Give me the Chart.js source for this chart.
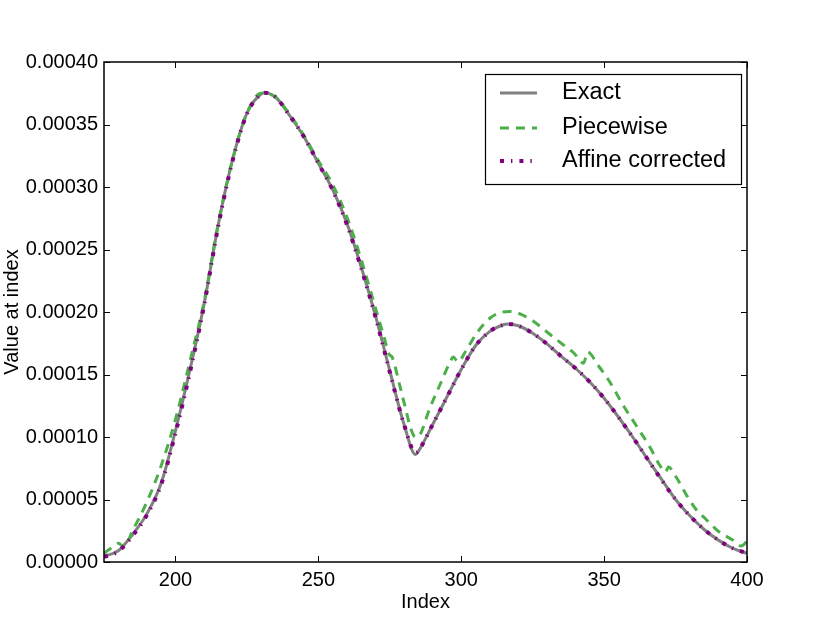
<!DOCTYPE html>
<html>
<head>
<meta charset="utf-8">
<script src="https://cdn.jsdelivr.net/npm/chart.js@4/dist/chart.umd.min.js"></script>
<style>
html,body{margin:0;padding:0;background:#fff;}
#wrap{width:830px;height:626px;}
</style>
</head>
<body>
<div id="wrap"><canvas id="c" width="830" height="626"></canvas></div>
<script>
// ---- data ----
const idx = [175,180,185,190,195,200,205,210,215,220,225,230,231,235,240,245,250,255,260,265,270,275,280,284,285,290,295,300,305,310,315,316,320,325,330,335,340,345,350,355,360,365,370,375,380,385,390,395,400];
const exactVals = [4.5e-6,9e-6,2.2e-5,3.85e-5,6.3e-5,1.05e-4,1.53e-4,2.06e-4,2.70e-4,3.22e-4,3.59e-4,3.745e-4,3.755e-4,3.72e-4,3.57e-4,3.40e-4,3.19e-4,2.98e-4,2.71e-4,2.36e-4,1.97e-4,1.53e-4,1.10e-4,8.6e-5,8.85e-5,1.10e-4,1.32e-4,1.54e-4,1.73e-4,1.845e-4,1.90e-4,1.905e-4,1.89e-4,1.83e-4,1.745e-4,1.645e-4,1.55e-4,1.44e-4,1.31e-4,1.16e-4,1.00e-4,8.3e-5,6.65e-5,5.0e-5,3.7e-5,2.6e-5,1.75e-5,1.1e-5,7e-6];
const affineVals = [4e-6,8.5e-6,2.1e-5,3.75e-5,6.2e-5,1.03e-4,1.51e-4,2.05e-4,2.69e-4,3.21e-4,3.585e-4,3.745e-4,3.755e-4,3.72e-4,3.57e-4,3.40e-4,3.19e-4,2.975e-4,2.70e-4,2.35e-4,1.96e-4,1.52e-4,1.10e-4,8.75e-5,8.9e-5,1.10e-4,1.32e-4,1.54e-4,1.73e-4,1.845e-4,1.90e-4,1.905e-4,1.89e-4,1.83e-4,1.745e-4,1.645e-4,1.55e-4,1.44e-4,1.31e-4,1.16e-4,1.00e-4,8.3e-5,6.6e-5,5.0e-5,3.7e-5,2.6e-5,1.75e-5,1.1e-5,7e-6];
const pieceIdx = [175,178,180,182,185,190,195,200,205,210,215,220,225,230,235,240,245,250,255,260,265,270,273,274.8,275.8,278.3,280.6,282.3,284,285.6,289,292.6,296.1,297.2,298.9,301.4,305.4,310,313,317,320,325,330,335,339.5,342.8,344.2,348,352,356.5,361,366,369.3,371.5,372.5,375.2,378.7,382.2,385.7,390.3,395,398,400];
const pieceVals = [7e-6,1.2e-5,1.5e-5,1.2e-5,2.5e-5,4.8e-5,7.7e-5,1.14e-4,1.60e-4,2.08e-4,2.71e-4,3.22e-4,3.59e-4,3.75e-4,3.72e-4,3.58e-4,3.41e-4,3.21e-4,3.02e-4,2.76e-4,2.42e-4,2.03e-4,1.80e-4,1.66e-4,1.64e-4,1.43e-4,1.22e-4,1.07e-4,9.98e-5,1.02e-4,1.23e-4,1.42e-4,1.60e-4,1.64e-4,1.60e-4,1.68e-4,1.83e-4,1.95e-4,1.99e-4,2.005e-4,1.99e-4,1.93e-4,1.84e-4,1.75e-4,1.67e-4,1.59e-4,1.68e-4,1.57e-4,1.44e-4,1.26e-4,1.10e-4,9.2e-5,7.8e-5,7.2e-5,7.6e-5,6.8e-5,5.4e-5,4.2e-5,3.4e-5,2.4e-5,1.76e-5,1.28e-5,1.65e-5];
const xTicks = [200,250,300,350,400];
const yTicks = [0,0.00005,0.0001,0.00015,0.0002,0.00025,0.0003,0.00035,0.0004];
const seriesNames = ['Exact','Piecewise','Affine corrected'];

const FONT = '"Liberation Sans", Arial, Helvetica, sans-serif';
const pts = (xs, ys) => xs.map((x,i)=>({x:x,y:ys[i]}));

const frameTicks = {
  id:'frameTicks',
  afterDatasetsDraw(chart){
    const ctx = chart.ctx, a = chart.chartArea;
    const xs = chart.scales.x, ys = chart.scales.y;
    ctx.save();
    ctx.strokeStyle = '#000';
    ctx.lineWidth = 1;
    const L = 6;
    ctx.beginPath();
    xTicks.forEach(v=>{
      const p = Math.round(xs.getPixelForValue(v))+0.5;
      ctx.moveTo(p,a.bottom); ctx.lineTo(p,a.bottom-L);
      ctx.moveTo(p,a.top); ctx.lineTo(p,a.top+L);
    });
    yTicks.forEach(v=>{
      const p = Math.round(ys.getPixelForValue(v))+0.5;
      ctx.moveTo(a.left,p); ctx.lineTo(a.left+L,p);
      ctx.moveTo(a.right,p); ctx.lineTo(a.right-L,p);
    });
    ctx.stroke();
    ctx.lineWidth = 1.5;
    ctx.strokeRect(a.left, a.top, a.right-a.left, a.bottom-a.top);
    ctx.restore();
  },
  afterDraw(chart){
    const ctx = chart.ctx;
    ctx.save();
    const bx=485, by=74, bw=256, bh=110;
    ctx.fillStyle='#fff';
    ctx.fillRect(bx,by,bw,bh);
    ctx.strokeStyle='#000'; ctx.lineWidth=1.2;
    ctx.strokeRect(bx+0.5,by+0.5,bw,bh);
    const rows=[93,128,161];
    chart.data.datasets.forEach((ds,i)=>{
      ctx.save();
      ctx.strokeStyle=ds.borderColor;
      ctx.lineWidth=ds.borderWidth;
      ctx.setLineDash(ds.borderDash||[]);
      ctx.lineCap='butt';
      ctx.beginPath(); ctx.moveTo(500,rows[i]); ctx.lineTo(537,rows[i]); ctx.stroke();
      ctx.restore();
      ctx.fillStyle='#000';
      ctx.font='23.5px '+FONT;
      ctx.textBaseline='middle';
      ctx.textAlign='left';
      ctx.fillText(ds.label,562,rows[i]);
    });
    ctx.restore();
  }
};

new Chart(document.getElementById('c'),{
  type:'line',
  data:{datasets:[
    {label:seriesNames[0],data:pts(idx,exactVals),borderColor:'#808080',borderWidth:3,pointRadius:0,cubicInterpolationMode:'monotone',order:3,fill:false},
    {label:seriesNames[1],data:pts(pieceIdx,pieceVals),borderColor:'#4daf4a',borderWidth:3,borderDash:[9,7],pointRadius:0,cubicInterpolationMode:'monotone',order:2,fill:false},
    {label:seriesNames[2],data:pts(idx,affineVals),borderColor:'#800080',borderWidth:4,borderDash:[4,7,1.4,7],pointRadius:0,cubicInterpolationMode:'monotone',order:1,fill:false}
  ]},
  options:{
    responsive:false,
    animation:false,
    devicePixelRatio:1,
    layout:{padding:{left:0,top:62,right:83,bottom:0}},
    plugins:{legend:{display:false},tooltip:{enabled:false}},
    scales:{
      x:{type:'linear',min:175,max:400,
        afterBuildTicks(s){ s.ticks = xTicks.map(v=>({value:v})); },
        afterFit(s){ s.height = 64; },
        grid:{display:false,drawTicks:false},
        border:{display:false},
        ticks:{color:'#000',font:{family:FONT,size:20},padding:6,maxRotation:0,autoSkip:false},
        title:{display:true,text:'Index',color:'#000',font:{family:FONT,size:20},padding:{top:12,bottom:12}}
      },
      y:{type:'linear',min:0,max:0.0004,
        afterBuildTicks(s){ s.ticks = yTicks.map(v=>({value:v})); },
        afterFit(s){ s.width = 104; },
        grid:{display:false,drawTicks:false},
        border:{display:false},
        ticks:{color:'#000',font:{family:FONT,size:20},padding:6,autoSkip:false,callback:v=>v.toFixed(5)},
        title:{display:true,text:'Value at index',color:'#000',font:{family:FONT,size:20},padding:{top:0,bottom:0}}
      }
    }
  },
  plugins:[frameTicks]
});
</script>
</body>
</html>
